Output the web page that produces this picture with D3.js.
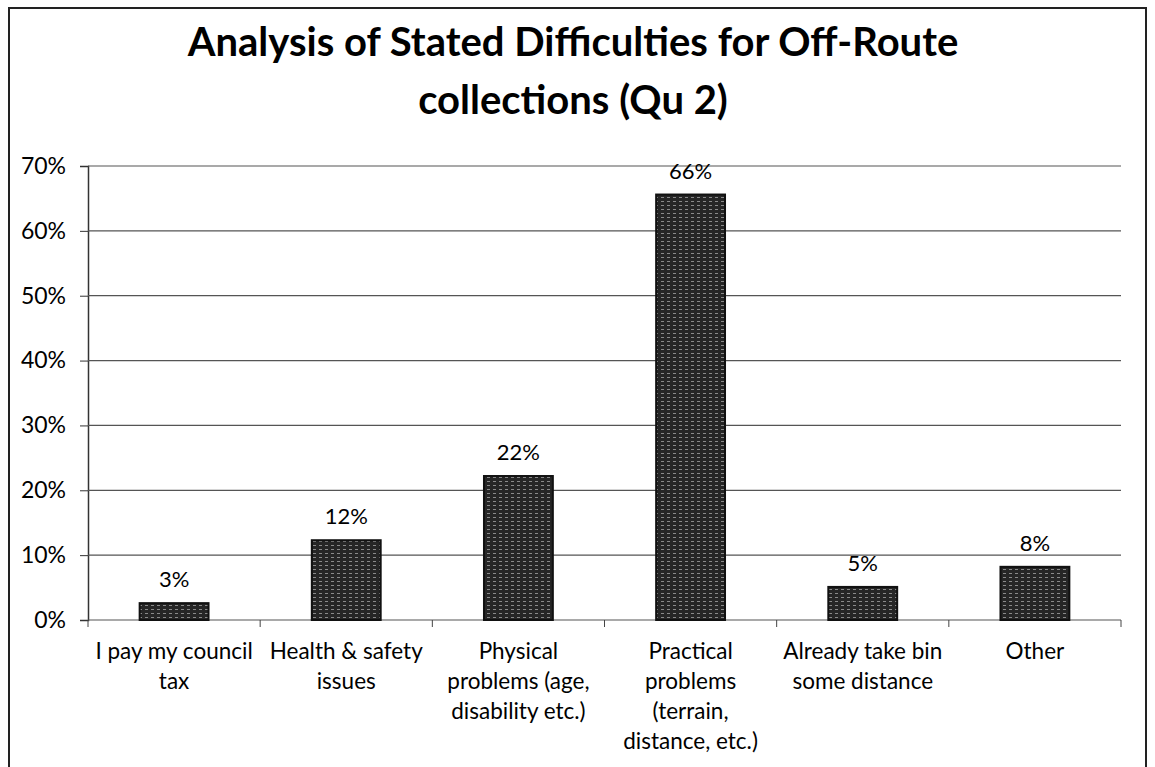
<!DOCTYPE html>
<html>
<head>
<meta charset="utf-8">
<script src="https://cdn.jsdelivr.net/npm/d3@7"></script>
<style>
  body { margin: 0; background: #fff; }
  svg text { font-family: Lato, "Open Sans", sans-serif; fill: #000; }
</style>
</head>
<body>
<div id="chart"></div>
<script>
var categories = [
  "I pay my council tax",
  "Health & safety issues",
  "Physical problems (age, disability etc.)",
  "Practical problems (terrain, distance, etc.)",
  "Already take bin some distance",
  "Other"
];
// how Excel wrapped each category label
var category_lines = [
  ["I pay my council", "tax"],
  ["Health & safety", "issues"],
  ["Physical", "problems (age,", "disability etc.)"],
  ["Practical", "problems", "(terrain,", "distance, etc.)"],
  ["Already take bin", "some distance"],
  ["Other"]
];
var values = [0.026, 0.123, 0.222, 0.656, 0.051, 0.082];
var value_labels = ["3%", "12%", "22%", "66%", "5%", "8%"];
var y_ticks = [0, 0.1, 0.2, 0.3, 0.4, 0.5, 0.6, 0.7];
var title_lines = ["Analysis of Stated Difficulties for Off-Route", "collections (Qu 2)"];

var width = 1155, height = 767;
var plot = {left: 88, right: 1121, top: 166, bottom: 620};

var svg = d3.select("#chart").append("svg")
  .attr("width", width)
  .attr("height", height);

// outer frame
svg.append("rect")
  .attr("x", 9).attr("y", 8)
  .attr("width", 1137).attr("height", 800)
  .attr("fill", "none")
  .attr("stroke", "#222")
  .attr("stroke-width", 2);

svg.selectAll(".title")
  .data(title_lines)
  .enter()
    .append("text")
    .attr("class", "title")
    .attr("x", 573)
    .attr("y", function(d, i) { return 56 + i * 58; })
    .attr("text-anchor", "middle")
    .style("font-size", "40px")
    .style("font-weight", "bold")
    .text(function(d) { return d; });

var x = d3.scaleBand()
  .domain(categories)
  .range([plot.left, plot.right])
  .paddingInner(0.6)
  .paddingOuter(0.3);

var y = d3.scaleLinear()
  .domain([0, 0.7])
  .range([plot.bottom, plot.top]);

// gridlines + y axis
var y_axis = svg.append("g")
  .attr("transform", "translate(" + plot.left + ",0)")
  .call(d3.axisLeft(y).tickValues(y_ticks).tickFormat(d3.format(".0%")).tickSize(8).tickPadding(14));
y_axis.select(".domain").attr("stroke", "#333").attr("stroke-width", 1.5);
y_axis.selectAll(".tick line").attr("stroke", "#333");
y_axis.selectAll(".tick text").style("font-size", "23px").attr("fill", "#000");

svg.append("g")
  .selectAll("line")
  .data(y_ticks)
  .enter()
    .append("line")
    .attr("x1", plot.left)
    .attr("x2", plot.right)
    .attr("y1", function(d) { return y(d); })
    .attr("y2", function(d) { return y(d); })
    .attr("stroke", "#555")
    .attr("stroke-width", 1.2);

// category ticks on the x axis (at band boundaries)
var step = x.step();
var bounds = d3.range(categories.length + 1).map(function(i) { return plot.left + i * step; });
svg.append("g")
  .selectAll("line")
  .data(bounds)
  .enter()
    .append("line")
    .attr("x1", function(d) { return d; })
    .attr("x2", function(d) { return d; })
    .attr("y1", plot.bottom)
    .attr("y2", plot.bottom + 7)
    .attr("stroke", "#444");

// texture for the scanned bars
var defs = svg.append("defs");
var pat = defs.append("pattern")
  .attr("id", "scan")
  .attr("width", 6).attr("height", 4)
  .attr("patternUnits", "userSpaceOnUse");
pat.append("rect").attr("width", 6).attr("height", 4).attr("fill", "#262626");
pat.append("rect").attr("x", 1).attr("y", 1).attr("width", 3).attr("height", 1).attr("fill", "#8a8a8a");

svg.selectAll(".bar")
  .data(values)
  .enter()
    .append("rect")
    .attr("class", "bar")
    .attr("x", function(d, i) { return x(categories[i]); })
    .attr("y", function(d) { return y(d); })
    .attr("width", x.bandwidth())
    .attr("height", function(d) { return y(0) - y(d); })
    .attr("fill", "url(#scan)")
    .attr("stroke", "#111")
    .attr("stroke-width", 2);

svg.selectAll(".val")
  .data(values)
  .enter()
    .append("text")
    .attr("class", "val")
    .attr("x", function(d, i) { return x(categories[i]) + x.bandwidth() / 2; })
    .attr("y", function(d) { return y(d) - 16; })
    .attr("text-anchor", "middle")
    .style("font-size", "22px")
    .text(function(d, i) { return value_labels[i]; });

var cat_g = svg.selectAll(".cat")
  .data(categories)
  .enter()
    .append("text")
    .attr("class", "cat")
    .attr("text-anchor", "middle")
    .style("font-size", "22.5px");
cat_g.selectAll("tspan")
  .data(function(d, i) { return category_lines[i].map(function(t) { return {t: t, c: d}; }); })
  .enter()
    .append("tspan")
    .attr("x", function(d) { return x(d.c) + x.bandwidth() / 2; })
    .attr("y", function(d, j) { return 659 + j * 30; })
    .text(function(d) { return d.t; });
</script>
</body>
</html>
